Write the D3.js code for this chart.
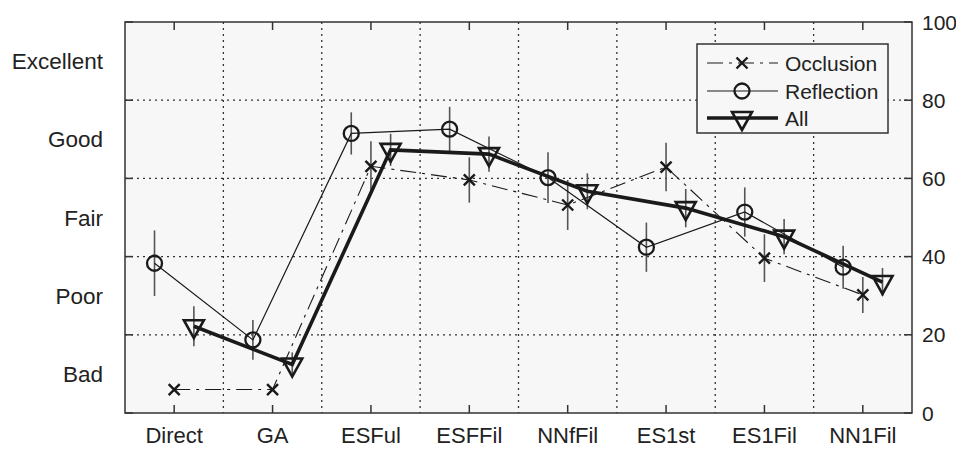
<!DOCTYPE html>
<html>
<head>
<meta charset="utf-8">
<script src="https://cdn.jsdelivr.net/npm/d3@7"></script>
<style>
  body { margin: 0; background: #fff; }
  text { font-family: "Liberation Sans", Arial, sans-serif; font-size: 21px; fill: #222; }
  text.big { font-size: 22.5px; }
  text.xl { font-size: 22px; }
</style>
</head>
<body>
<div id="chart"></div>
<script>
// categories and values
var categories = ["Direct", "GA", "ESFul", "ESFFil", "NNfFil", "ES1st", "ES1Fil", "NN1Fil"];
var occlusion = [6, 6, 63.1, 59.6, 53.2, 62.9, 39.6, 30.2];
var occlusionErr = [0, 0, 6.4, 5.8, 6.4, 6.2, 6.1, 4.6];
var reflection = [38.3, 18.7, 71.5, 72.6, 60.2, 42.4, 51.4, 37.3];
var reflectionErr = [8.4, 5.1, 5.4, 5.7, 6.5, 6.3, 6.3, 5.5];
var allRatings = [22.2, 12.4, 67.3, 66.2, 56.7, 52.4, 45.1, 33.5];
var allErr = [5.1, 3.1, 4.1, 4.5, 4.6, 4.9, 4.5, 3.6];
var yTicks = [0, 20, 40, 60, 80, 100];
var qualityLabels = ["Bad", "Poor", "Fair", "Good", "Excellent"];
var qualityPos = [10, 30, 50, 70, 90];

(function(){
    var width = 956, height = 449;
    var plotLeft = 125, plotRight = 912, plotTop = 22, plotBottom = 413;

    var svg = d3.select("#chart").append("svg")
        .attr("width", width)
        .attr("height", height);

    var x = d3.scaleLinear().domain([-0.5, 7.5]).range([plotLeft, plotRight]);
    var y = d3.scaleLinear().domain([0, 100]).range([plotBottom, plotTop]);

    // plot background
    svg.append("rect")
        .attr("x", plotLeft).attr("y", plotTop)
        .attr("width", plotRight - plotLeft).attr("height", plotBottom - plotTop)
        .attr("fill", "#f7f7f7");

    // dotted grid: horizontal at y ticks, vertical between categories
    var grid = svg.append("g")
        .attr("stroke", "#333")
        .attr("stroke-width", 1.3)
        .attr("stroke-dasharray", "2,4");
    grid.selectAll(".hg").data(yTicks.slice(1, -1)).enter().append("line")
        .attr("x1", plotLeft).attr("x2", plotRight)
        .attr("y1", function(d){ return y(d) }).attr("y2", function(d){ return y(d) });
    grid.selectAll(".vg").data(d3.range(categories.length - 1)).enter().append("line")
        .attr("y1", plotTop).attr("y2", plotBottom)
        .attr("x1", function(d){ return x(d + 0.5) }).attr("x2", function(d){ return x(d + 0.5) });

    // frame and inward ticks
    svg.append("rect")
        .attr("x", plotLeft).attr("y", plotTop)
        .attr("width", plotRight - plotLeft).attr("height", plotBottom - plotTop)
        .attr("fill", "none").attr("stroke", "#333").attr("stroke-width", 1.5);

    var ticks = svg.append("g").attr("stroke", "#333").attr("stroke-width", 1.5);
    categories.forEach(function(c, i){
        ticks.append("line").attr("x1", x(i)).attr("x2", x(i)).attr("y1", plotBottom).attr("y2", plotBottom - 8);
        ticks.append("line").attr("x1", x(i)).attr("x2", x(i)).attr("y1", plotTop).attr("y2", plotTop + 8);
    });
    yTicks.forEach(function(t){
        ticks.append("line").attr("x1", plotRight).attr("x2", plotRight - 8).attr("y1", y(t)).attr("y2", y(t));
        ticks.append("line").attr("x1", plotLeft).attr("x2", plotLeft + 8).attr("y1", y(t)).attr("y2", y(t));
    });

    // axis labels
    svg.selectAll(".xl").data(categories).enter().append("text")
        .attr("class", "xl")
        .attr("x", function(d, i){ return x(i) })
        .attr("y", 443)
        .attr("text-anchor", "middle")
        .text(function(d){ return d });

    svg.selectAll(".yl").data(yTicks).enter().append("text")
        .attr("x", 922)
        .attr("y", function(d){ return y(d) + 7.5 })
        .text(function(d){ return d });

    svg.selectAll(".ql").data(qualityLabels).enter().append("text")
        .attr("class", "big")
        .attr("x", 103)
        .attr("y", function(d, i){ return y(qualityPos[i]) + 8 })
        .attr("text-anchor", "end")
        .text(function(d){ return d });

    var series = [
        {name: "Occlusion", values: occlusion, err: occlusionErr, offset: 0, width: 1.1, dash: "16,6,3,6", marker: "x"},
        {name: "Reflection", values: reflection, err: reflectionErr, offset: -0.2, width: 1.2, dash: null, marker: "o"},
        {name: "All", values: allRatings, err: allErr, offset: 0.2, width: 3.6, dash: null, marker: "v"}
    ];

    function drawMarker(g, type, cx, cy){
        if(type === "x"){
            g.append("path")
                .attr("d", "M" + (cx - 5.5) + "," + (cy - 5.5) + "L" + (cx + 5.5) + "," + (cy + 5.5) +
                           "M" + (cx - 5.5) + "," + (cy + 5.5) + "L" + (cx + 5.5) + "," + (cy - 5.5))
                .attr("stroke", "#1a1a1a").attr("stroke-width", 2.4).attr("fill", "none");
        } else if(type === "o"){
            g.append("circle")
                .attr("cx", cx).attr("cy", cy).attr("r", 7.5)
                .attr("stroke", "#1a1a1a").attr("stroke-width", 2.3).attr("fill", "none");
        } else {
            g.append("path")
                .attr("d", "M" + (cx - 10) + "," + (cy - 6) + "L" + (cx + 10) + "," + (cy - 6) + "L" + cx + "," + (cy + 12) + "Z")
                .attr("stroke", "#1a1a1a").attr("stroke-width", 2.6).attr("fill", "none")
                .attr("stroke-linejoin", "miter");
        }
    }

    var line = d3.line();

    // error bars
    series.forEach(function(s){
        svg.append("g").selectAll("line").data(s.values).enter().append("line")
            .attr("x1", function(d, i){ return x(i + s.offset) })
            .attr("x2", function(d, i){ return x(i + s.offset) })
            .attr("y1", function(d, i){ return y(d - s.err[i]) })
            .attr("y2", function(d, i){ return y(d + s.err[i]) })
            .attr("stroke", "#555")
            .attr("stroke-width", 1.6);
    });

    // lines and markers
    series.forEach(function(s){
        var pts = s.values.map(function(d, i){ return [x(i + s.offset), y(d)] });
        svg.append("path")
            .attr("d", line(pts))
            .attr("fill", "none")
            .attr("stroke", "#1a1a1a")
            .attr("stroke-width", s.width)
            .attr("stroke-dasharray", s.dash);
        var mg = svg.append("g");
        pts.forEach(function(p){ drawMarker(mg, s.marker, p[0], p[1]) });
    });

    // legend
    var legend = svg.append("g");
    legend.append("rect")
        .attr("x", 697).attr("y", 44).attr("width", 191).attr("height", 89)
        .attr("fill", "#f7f7f7").attr("stroke", "#333").attr("stroke-width", 1.5);
    var legendY = [63, 91, 118];
    series.forEach(function(s, i){
        legend.append("line")
            .attr("x1", 707).attr("x2", 778)
            .attr("y1", legendY[i]).attr("y2", legendY[i])
            .attr("stroke", "#1a1a1a")
            .attr("stroke-width", s.width)
            .attr("stroke-dasharray", s.dash);
        drawMarker(legend, s.marker, 742, legendY[i]);
        legend.append("text")
            .attr("x", 785).attr("y", legendY[i] + 7.5)
            .text(s.name);
    });
})();
</script>
</body>
</html>
